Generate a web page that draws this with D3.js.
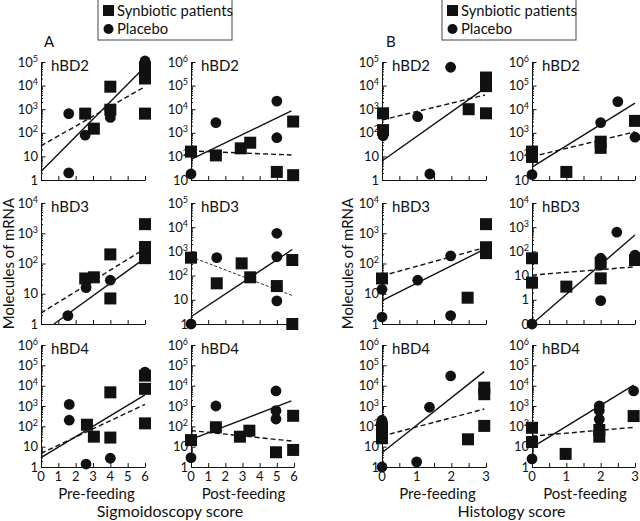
<!DOCTYPE html>
<html><head><meta charset="utf-8">
<script src="https://cdn.jsdelivr.net/npm/d3@7"></script>
<style>
body{margin:0;background:#fff}
svg{display:block}
text{font-family:Lato,"DejaVu Sans",sans-serif;fill:#111}
</style>
</head><body><svg id="c" width="640" height="521"></svg>
<script>
// ---------- DATA ----------
const seriesNames = ["Synbiotic patients", "Placebo"];
const rowTitles = ["hBD2", "hBD3", "hBD4"];
const xLabelsA = [0, 1, 2, 3, 4, 5, 6];
const xLabelsB = [0, 1, 2, 3];
const yTickValues = [0.1, 1, 10, 100, 1000, 10000, 100000, 1000000];
const yTickBase = ["0", "1", "10", "10", "10", "10", "10", "10"];
const yTickSup = ["", "", "", "2", "3", "4", "5", "6"];

// A: sigmoidoscopy score, pre-feeding
const A_pre_hBD2_syn = [[2.55,650],[3.05,150],[4,9000],[4,950],[6,60000],[6,20000],[6,650]];
const A_pre_hBD2_pla = [[1.6,650],[1.6,2],[2.55,80],[4,450],[6,110000],[6,85000]];
const A_pre_hBD2_solid = [[0,2.3],[6,63000]];
const A_pre_hBD2_dash = [[0,28],[6,9000]];

const A_pre_hBD3_syn = [[2.55,32],[3.05,35],[4,200],[4,7],[6,2000],[6,350],[6,250],[6,150]];
const A_pre_hBD3_pla = [[1.55,1.9],[2.6,16],[4,28]];
const A_pre_hBD3_solid = [[0.75,1],[6,150]];
const A_pre_hBD3_dash = [[0,2.3],[6,310]];

const A_pre_hBD4_syn = [[2.65,120],[3.05,31],[4,4700],[4,28],[6,31000],[6,7000],[6,140]];
const A_pre_hBD4_pla = [[1.63,1200],[1.63,200],[2.6,1.4],[4,2.7],[6,46000]];
const A_pre_hBD4_solid = [[0,2.9],[6,3500]];
const A_pre_hBD4_dash = [[0,4.7],[6,1200]];

// A: post-feeding
const A_post_hBD2_syn = [[0,160],[1.45,110],[2.9,220],[3.45,380],[5,22],[5.95,3000],[5.95,16]];
const A_post_hBD2_pla = [[0,18],[1.45,2700],[5,22000],[5,620]];
const A_post_hBD2_solid = [[0,75],[5.85,8500]];
const A_post_hBD2_dash = [[0,170],[5.85,115]];

const A_post_hBD3_syn = [[0,550],[1.5,48],[2.95,320],[3.45,85],[5,37],[5.9,440],[5.9,1]];
const A_post_hBD3_pla = [[0,1],[1.5,550],[5,5600],[5,600],[5,9]];
const A_post_hBD3_solid = [[0,2],[5.9,1200]];
const A_post_hBD3_dash = [[0,600],[5.9,15]];

const A_post_hBD4_syn = [[0,21],[1.45,90],[2.85,31],[3.4,61],[4.95,5.3],[5.95,330],[5.95,6.9]];
const A_post_hBD4_pla = [[0,2.9],[1.45,1000],[4.95,5500],[4.95,590],[4.95,230]];
const A_post_hBD4_solid = [[0,23],[5.85,1800]];
const A_post_hBD4_dash = [[0,62],[5.85,19]];

// B: histology score, pre-feeding
const B_pre_hBD2_syn = [[0.03,670],[0.03,130],[2.5,1000],[3,22000],[3,9500],[3,670]];
const B_pre_hBD2_pla = [[0.03,95],[0.03,75],[1.03,480],[1.38,1.8],[1.98,60000]];
const B_pre_hBD2_solid = [[0,6.4],[2.97,7800]];
const B_pre_hBD2_dash = [[0,350],[2.97,4000]];

const B_pre_hBD3_syn = [[0,32],[2.47,7.4],[3,2000],[3,345],[3,220]];
const B_pre_hBD3_pla = [[0,14],[0,1.7],[1.03,28],[1.98,178],[1.98,1.9]];
const B_pre_hBD3_solid = [[0,5.9],[3,316]];
const B_pre_hBD3_dash = [[0,39],[3,345]];

const B_pre_hBD4_syn = [[0,90],[0,26],[2.48,23],[2.95,8000],[2.95,3800],[2.95,105]];
const B_pre_hBD4_pla = [[0,1],[0,200],[1,1.8],[1.37,870],[1.98,30000]];
const B_pre_hBD4_solid = [[0,5],[2.95,49000]];
const B_pre_hBD4_dash = [[0,33],[2.95,710]];

// B: post-feeding
const B_post_hBD2_syn = [[0,160],[0,95],[1,22],[2,420],[2,230],[3,3200]];
const B_post_hBD2_pla = [[0,17],[2,2700],[2.5,21000],[3,650]];
const B_post_hBD2_solid = [[0,35],[3,18000]];
const B_post_hBD2_dash = [[0,98],[3,1100]];

const B_post_hBD3_syn = [[0,52],[0,5.1],[1,3.5],[2,34],[2,7.7],[3,44]];
const B_post_hBD3_pla = [[0,0.1],[2,52],[2,27],[2,0.92],[2.47,620],[3,70]];
const B_post_hBD3_solid = [[0,0.1],[3,480]];
const B_post_hBD3_dash = [[0,10.5],[3,23]];

const B_post_hBD4_syn = [[0,85],[0,17],[0.98,4.4],[1.96,66],[1.96,31],[2.96,320]];
const B_post_hBD4_pla = [[0,2.5],[1.96,1000],[1.96,600],[1.96,220],[2.96,5500]];
const B_post_hBD4_solid = [[0,9.3],[2.96,10700]];
const B_post_hBD4_dash = [[0,33],[2.96,89]];

// ---------- LAYOUT ----------
const cols = [[41,145],[191,294],[382,486],[532,635]];
const rows = [[62,180],[203,324],[345,467]];

const panels = [
 {c:0,r:0,xMax:6,xStep:1,yd:[1,1e5],syn:A_pre_hBD2_syn,pla:A_pre_hBD2_pla,solid:A_pre_hBD2_solid,dash:A_pre_hBD2_dash},
 {c:0,r:1,xMax:6,xStep:1,yd:[1,1e4],syn:A_pre_hBD3_syn,pla:A_pre_hBD3_pla,solid:A_pre_hBD3_solid,dash:A_pre_hBD3_dash},
 {c:0,r:2,xMax:6,xStep:1,yd:[1,1e6],syn:A_pre_hBD4_syn,pla:A_pre_hBD4_pla,solid:A_pre_hBD4_solid,dash:A_pre_hBD4_dash},
 {c:1,r:0,xMax:6,xStep:1,yd:[10,1e6],syn:A_post_hBD2_syn,pla:A_post_hBD2_pla,solid:A_post_hBD2_solid,dash:A_post_hBD2_dash},
 {c:1,r:1,xMax:6,xStep:1,yd:[1,1e5],syn:A_post_hBD3_syn,pla:A_post_hBD3_pla,solid:A_post_hBD3_solid,dash:A_post_hBD3_dash,thinDash:true},
 {c:1,r:2,xMax:6,xStep:1,yd:[1,1e6],syn:A_post_hBD4_syn,pla:A_post_hBD4_pla,solid:A_post_hBD4_solid,dash:A_post_hBD4_dash},
 {c:2,r:0,xMax:3,xStep:0.5,yd:[1,1e5],syn:B_pre_hBD2_syn,pla:B_pre_hBD2_pla,solid:B_pre_hBD2_solid,dash:B_pre_hBD2_dash},
 {c:2,r:1,xMax:3,xStep:0.5,yd:[1,1e4],syn:B_pre_hBD3_syn,pla:B_pre_hBD3_pla,solid:B_pre_hBD3_solid,dash:B_pre_hBD3_dash},
 {c:2,r:2,xMax:3,xStep:0.5,yd:[1,1e6],syn:B_pre_hBD4_syn,pla:B_pre_hBD4_pla,solid:B_pre_hBD4_solid,dash:B_pre_hBD4_dash},
 {c:3,r:0,xMax:3,xStep:0.5,yd:[10,1e6],syn:B_post_hBD2_syn,pla:B_post_hBD2_pla,solid:B_post_hBD2_solid,dash:B_post_hBD2_dash},
 {c:3,r:1,xMax:3,xStep:0.5,yd:[0.1,1e4],syn:B_post_hBD3_syn,pla:B_post_hBD3_pla,solid:B_post_hBD3_solid,dash:B_post_hBD3_dash},
 {c:3,r:2,xMax:3,xStep:0.5,yd:[1,1e6],syn:B_post_hBD4_syn,pla:B_post_hBD4_pla,solid:B_post_hBD4_solid,dash:B_post_hBD4_dash}
];

const svg = d3.select("#c");
const ink = "#111";
const SQ = 12, CR = 5.4;

panels.forEach(p => {
  const [x0,x1] = cols[p.c], [y0,y1] = rows[p.r];
  const x = d3.scaleLinear().domain([0,p.xMax]).range([x0,x1]);
  const y = d3.scaleLog().domain(p.yd).range([y1,y0]);
  const g = svg.append("g");

  // y minor ticks
  const minors = [];
  for (let d = p.yd[0]; d < p.yd[1]; d *= 10)
    for (let k = 2; k <= 9; k++) minors.push(+(k*d).toPrecision(3));
  const majors = yTickValues.filter(v => v >= p.yd[0] && v <= p.yd[1]);
  g.append("g").attr("transform",`translate(${x0},0)`)
    .call(d3.axisLeft(y).tickValues(minors).tickSize(-2).tickSizeOuter(0).tickFormat(""))
    .call(s => s.select(".domain").remove());
  const ya = g.append("g").attr("transform",`translate(${x0},0)`)
    .call(d3.axisLeft(y).tickValues(majors).tickSize(-4.5).tickSizeOuter(0).tickFormat(""));
  ya.selectAll("line,path").attr("stroke",ink);
  g.selectAll(".tick line").attr("stroke",ink);

  // y labels
  majors.forEach(v => {
    const i = yTickValues.indexOf(v);
    const t = g.append("text").attr("x",x0-3).attr("y",y(v)+4.5)
      .attr("text-anchor","end").attr("font-size",13);
    t.append("tspan").text(yTickBase[i]);
    if (yTickSup[i]) t.append("tspan").attr("dy",-5).attr("font-size",9).text(yTickSup[i]);
  });

  // x axis
  const xt = d3.range(0, p.xMax + 1e-9, p.xStep);
  const xa = g.append("g").attr("transform",`translate(0,${y1})`)
    .call(d3.axisBottom(x).tickValues(xt).tickSize(-4).tickSizeOuter(0).tickFormat(""));
  xa.selectAll("line,path").attr("stroke",ink);
  if (p.r === 2) {
    const labs = p.xMax === 6 ? xLabelsA : xLabelsB;
    g.selectAll(".xl").data(labs).join("text")
      .attr("x",d=>x(d)).attr("y",y1+14).attr("text-anchor","middle")
      .attr("font-size",13).text(d=>d);
  }

  // title
  g.append("text").attr("x",x0+10).attr("y",y0+8.5).attr("font-size",15).text(rowTitles[p.r]);

  // regression lines
  const line = d3.line().x(d=>x(d[0])).y(d=>y(d[1]));
  g.append("path").attr("d",line(p.solid)).attr("fill","none").attr("stroke",ink).attr("stroke-width",1.4);
  g.append("path").attr("d",line(p.dash)).attr("fill","none").attr("stroke",ink)
    .attr("stroke-width",p.thinDash?0.9:1.4).attr("stroke-dasharray",p.thinDash?"3,2":"5,3");

  // markers
  g.selectAll(".sq").data(p.syn).join("rect")
    .attr("x",d=>x(d[0])-SQ/2).attr("y",d=>y(d[1])-SQ/2).attr("width",SQ).attr("height",SQ).attr("fill",ink);
  g.selectAll(".ci").data(p.pla).join("circle")
    .attr("cx",d=>x(d[0])).attr("cy",d=>y(d[1])).attr("r",CR).attr("fill",ink);
});

// legends
[[98,"A",44],[442,"B",386]].forEach(([lx,letter,ax]) => {
  const lg = svg.append("g");
  lg.append("rect").attr("x",lx).attr("y",-1).attr("width",134).attr("height",41)
    .attr("fill","#fff").attr("stroke","#444").attr("stroke-width",1);
  lg.append("rect").attr("x",lx+5).attr("y",5).attr("width",11).attr("height",11).attr("fill",ink);
  lg.append("circle").attr("cx",lx+10.5).attr("cy",29).attr("r",5).attr("fill",ink);
  lg.append("text").attr("x",lx+19).attr("y",16).attr("font-size",14.8).text(seriesNames[0]);
  lg.append("text").attr("x",lx+19).attr("y",34).attr("font-size",14.8).text(seriesNames[1]);
  svg.append("text").attr("x",ax).attr("y",47).attr("font-size",15).text(letter);
});

// axis titles
[14,353].forEach(bx => {
  svg.append("text").attr("transform",`translate(${bx},263.5) rotate(-90)`)
    .attr("text-anchor","middle").attr("font-size",15).text("Molecules of mRNA");
});
[[96.5,"Pre-feeding"],[243.5,"Post-feeding"],[437.5,"Pre-feeding"],[585,"Post-feeding"]].forEach(([cx,t]) => {
  svg.append("text").attr("x",cx).attr("y",499).attr("text-anchor","middle").attr("font-size",15).text(t);
});
svg.append("text").attr("x",170).attr("y",517).attr("text-anchor","middle").attr("font-size",16).text("Sigmoidoscopy score");
svg.append("text").attr("x",511.5).attr("y",517).attr("text-anchor","middle").attr("font-size",16).text("Histology score");
</script></body></html>
